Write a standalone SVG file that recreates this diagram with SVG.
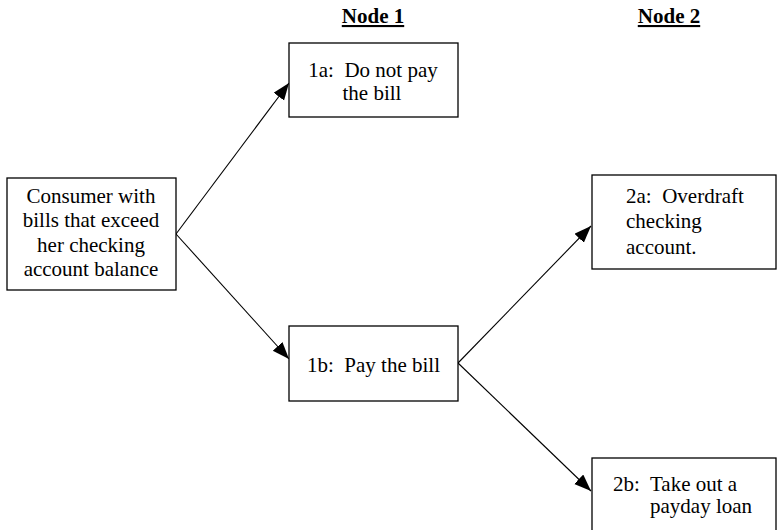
<svg xmlns="http://www.w3.org/2000/svg" width="777" height="530" viewBox="0 0 777 530">
<style>
text{font-family:"Liberation Serif","Times New Roman",serif;font-size:21px;fill:#000}
.hdr{font-weight:bold;text-decoration:underline;text-anchor:middle}
.c{text-anchor:middle}
.box{fill:#fff;stroke:#000;stroke-width:1.3}
.conn line{stroke:#000;stroke-width:1.1;fill:none}
</style>
<defs>
<marker id="ah" markerUnits="userSpaceOnUse" markerWidth="18" markerHeight="14" refX="17" refY="6.5" orient="auto">
<path d="M0,0 L17,6.5 L0,13 Z" fill="#000"/>
</marker>
</defs>
<rect width="777" height="530" fill="#fff"/>
<text class="hdr" x="373" y="23">Node 1</text>
<text class="hdr" x="669" y="23">Node 2</text>
<g class="conn">
<line x1="176" y1="234" x2="289" y2="83" marker-end="url(#ah)"/>
<line x1="176" y1="234" x2="289" y2="359" marker-end="url(#ah)"/>
<line x1="458" y1="363" x2="591" y2="226" marker-end="url(#ah)"/>
<line x1="458" y1="363" x2="591" y2="491" marker-end="url(#ah)"/>
</g>
<g id="consumer">
<rect class="box" x="7" y="178" width="169" height="112"/>
<text class="c" x="91" y="203">Consumer with</text>
<text class="c" x="91" y="227">bills that exceed</text>
<text class="c" x="91" y="252">her checking</text>
<text class="c" x="91" y="276">account balance</text>
</g>
<g id="n1a">
<rect class="box" x="289" y="43" width="169" height="74"/>
<text class="c" x="373" y="77" xml:space="preserve">1a:  Do not pay</text>
<text class="c" x="372" y="100">the bill</text>
</g>
<g id="n1b">
<rect class="box" x="289" y="326" width="169" height="75"/>
<text class="c" x="373.5" y="372" xml:space="preserve">1b:  Pay the bill</text>
</g>
<g id="n2a">
<rect class="box" x="592" y="175" width="184" height="94"/>
<text x="626" y="203" xml:space="preserve">2a:  Overdraft</text>
<text x="626" y="228">checking</text>
<text x="626" y="254">account.</text>
</g>
<g id="n2b">
<rect class="box" x="592" y="458" width="184" height="80"/>
<text x="613" y="491" xml:space="preserve">2b:  Take out a</text>
<text x="650" y="513">payday loan</text>
</g>
</svg>
